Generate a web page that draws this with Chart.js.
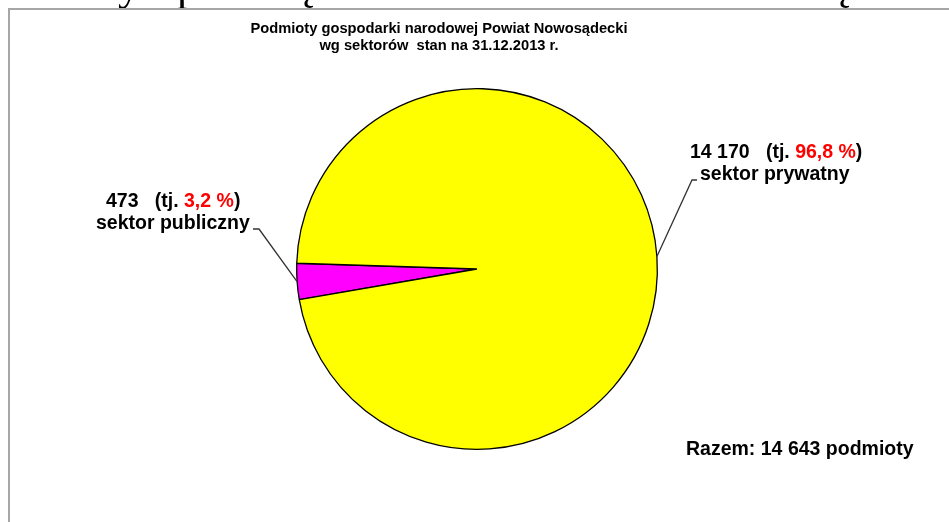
<!DOCTYPE html>
<html>
<head>
<meta charset="utf-8">
<script src="https://cdn.jsdelivr.net/npm/chart.js@4"></script>
<style>
  html, body { margin: 0; padding: 0; background: #fff; }
  canvas { display: block; }
</style>
</head>
<body>
<canvas id="pie-chart" width="949" height="522"></canvas>
<script>
const TITLE_LINES = [
  "Podmioty gospodarki narodowej Powiat Nowosądecki",
  "wg sektorów  stan na 31.12.2013 r.",
];
const SECTORS = ["sektor publiczny", "sektor prywatny"];
const COUNTS = [473, 14170];
const SHARES = ["3,2", "96,8"];
const TOTAL = 14643;
const COLORS = ["#FF00FF", "#FFFF00"];

const LABEL_FONT = "bold 19.5px 'Liberation Sans', Arial, sans-serif";
const TITLE_FONT = "bold 14.7px 'Liberation Sans', Arial, sans-serif";

// where each label sits: text anchor and leader elbow
const LABEL_LAYOUT = [
  { x1: 106, y1: 207, x2: 96, y2: 229, elbow: [259, 229], end: [253, 229] },
  { x1: 690, y1: 158, x2: 700, y2: 180, elbow: [692, 180], end: [697, 180] },
];

document.addEventListener("DOMContentLoaded", () => mount());

function mount() {
  const ctx = document.getElementById("pie-chart").getContext("2d");
  createChart(ctx);
}

function formatNumber(n) {
  return String(n).replace(/\B(?=(\d{3})+(?!\d))/g, " ");
}

function drawParts(ctx, x, y, parts) {
  parts.forEach(([text, color]) => {
    ctx.fillStyle = color;
    ctx.fillText(text, x, y);
    x += ctx.measureText(text).width;
  });
}

const pageDecor = {
  id: "pageDecor",
  beforeDraw(chart) {
    const ctx = chart.ctx;
    ctx.save();
    ctx.fillStyle = "#fff";
    ctx.fillRect(0, 0, chart.width, chart.height);
    // bits of the document text above the chart
    ctx.fillStyle = "#000";
    ctx.font = "44px 'Liberation Serif', serif";
    ctx.textBaseline = "alphabetic";
    [["y", 118], ["p", 177], ["ą", 293], ["ą", 829]].forEach(([t, x]) =>
      ctx.fillText(t, x, 0)
    );
    // frame
    ctx.strokeStyle = "#a6a6a6";
    ctx.lineWidth = 2;
    ctx.beginPath();
    ctx.moveTo(9, chart.height);
    ctx.lineTo(9, 9);
    ctx.lineTo(chart.width, 9);
    ctx.stroke();
    ctx.restore();
  },
  afterDraw(chart) {
    const ctx = chart.ctx;
    ctx.save();
    ctx.textBaseline = "alphabetic";
    ctx.fillStyle = "#000";
    ctx.font = TITLE_FONT;
    ctx.textAlign = "center";
    ctx.fillText(TITLE_LINES[0], 439, 33);
    ctx.fillText(TITLE_LINES[1], 439, 50);
    ctx.textAlign = "left";

    const arcs = chart.getDatasetMeta(0).data;
    ctx.font = LABEL_FONT;
    arcs.forEach((arc, i) => {
      const lay = LABEL_LAYOUT[i];
      const mid = (arc.startAngle + arc.endAngle) / 2;
      const px = arc.x + Math.cos(mid) * arc.outerRadius;
      const py = arc.y + Math.sin(mid) * arc.outerRadius;
      ctx.strokeStyle = "#333";
      ctx.lineWidth = 1.3;
      ctx.beginPath();
      ctx.moveTo(px, py);
      ctx.lineTo(lay.elbow[0], lay.elbow[1]);
      ctx.lineTo(lay.end[0], lay.end[1]);
      ctx.stroke();

      drawParts(ctx, lay.x1, lay.y1, [
        [formatNumber(COUNTS[i]) + "   (tj. ", "#000"],
        [SHARES[i] + " %", "#FF0000"],
        [")", "#000"],
      ]);
      ctx.fillStyle = "#000";
      ctx.fillText(SECTORS[i], lay.x2, lay.y2);
    });

    ctx.fillText("Razem: " + formatNumber(TOTAL) + " podmioty", 686, 455);
    ctx.restore();
  },
};

function createChart(ctx) {
  return new Chart(ctx, {
    type: "pie",
    data: {
      labels: SECTORS,
      datasets: [
        {
          data: COUNTS,
          backgroundColor: COLORS,
          borderColor: "#000",
          borderWidth: 1.3,
        },
      ],
    },
    options: {
      responsive: false,
      animation: false,
      rotation: 260.2,
      layout: {
        padding: { top: 88, bottom: 72, left: 296, right: 291 },
      },
      plugins: {
        legend: { display: false },
        tooltip: { enabled: false },
      },
    },
    plugins: [pageDecor],
  });
}
</script>
</body>
</html>
